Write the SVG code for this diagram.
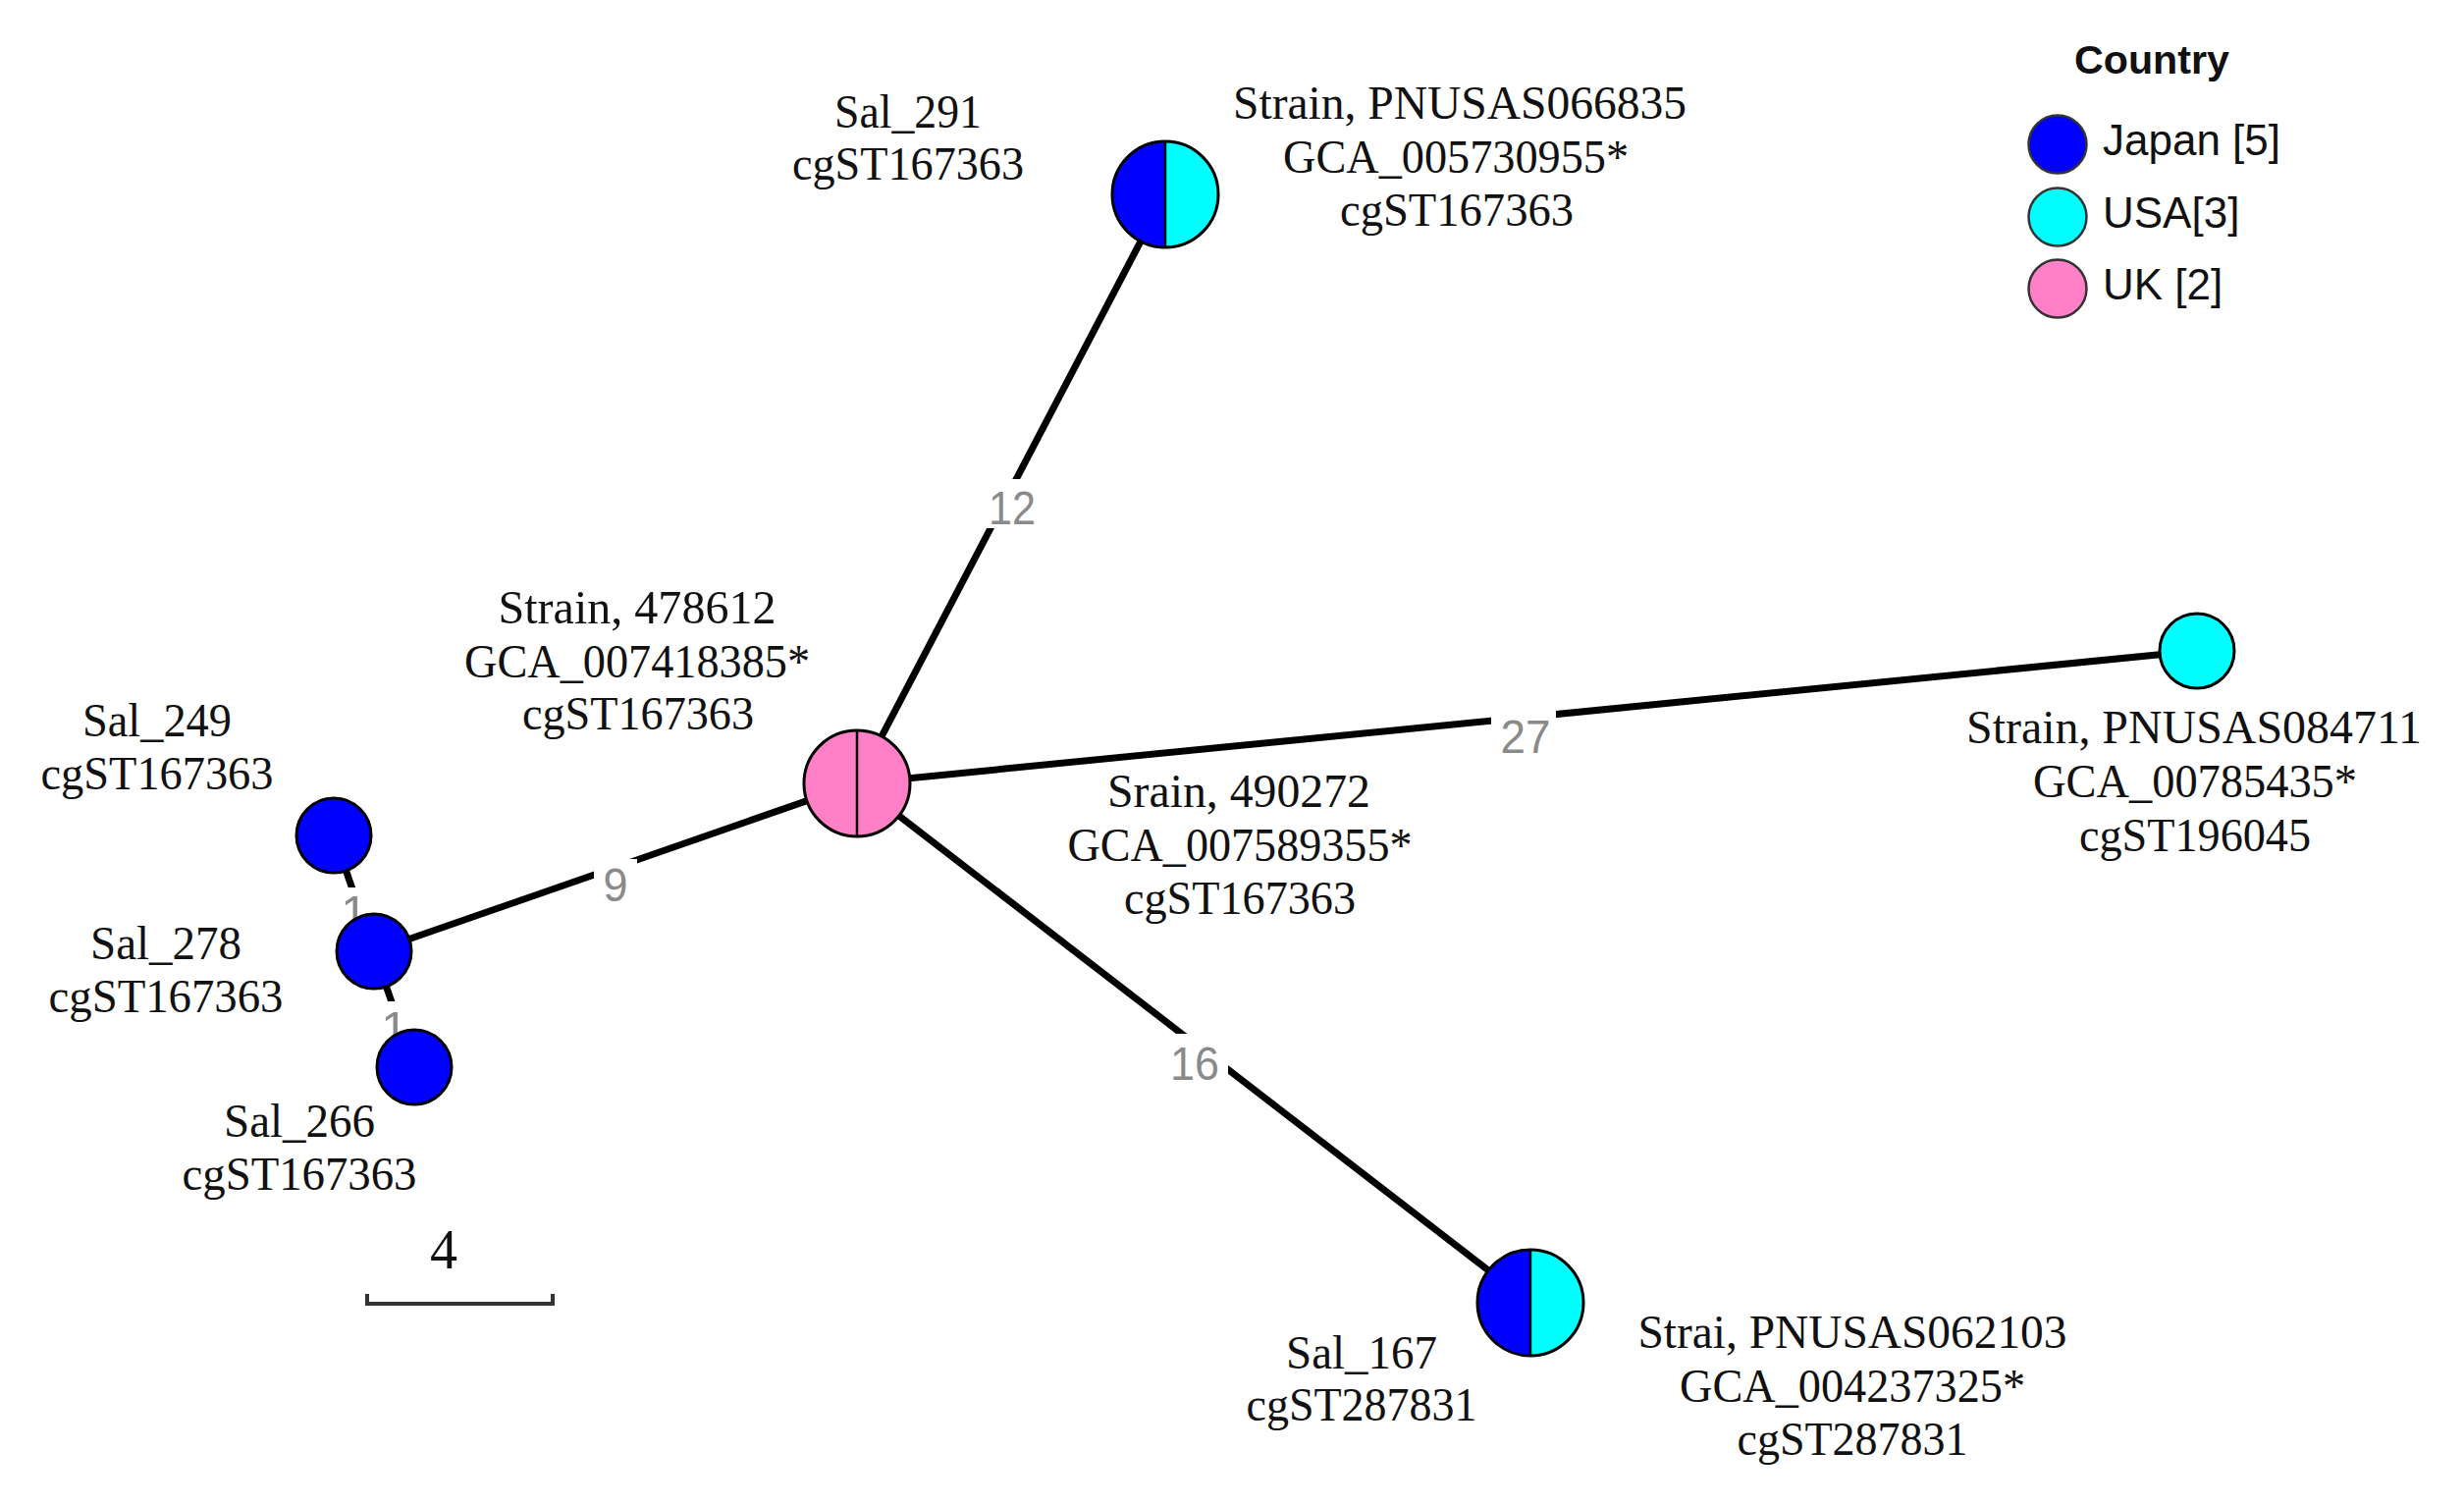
<svg xmlns="http://www.w3.org/2000/svg" width="2510" height="1532" viewBox="0 0 2510 1532">
<style>
.edge{stroke:#000;stroke-width:7;fill:none;stroke-linecap:butt}
.elab{font-family:"Liberation Sans",Arial,sans-serif;font-size:49px;fill:#8a8a8a;text-anchor:middle}
.lbg{fill:#fff}
.nd{stroke:#000;stroke-width:3}
.div{stroke:#000;stroke-width:2.5}
.jp{fill:#0000FF}
.us{fill:#00FFFF}
.uk{fill:#FF80C6}
.t{font-family:"Liberation Serif","Times New Roman",serif;font-size:48px;fill:#111;text-anchor:middle}
.leg{font-family:"Liberation Sans",Arial,sans-serif;font-size:44px;fill:#111}
.legc{stroke:#333;stroke-width:2.5}
</style>
<rect width="2510" height="1532" fill="#fff"/>
<g id="connectors">
<line class="edge" x1="873" y1="798" x2="1187" y2="198"/>
<line class="edge" x1="873" y1="798" x2="2238" y2="663"/>
<line class="edge" x1="873" y1="798" x2="1559" y2="1327"/>
<line class="edge" x1="873" y1="798" x2="381" y2="969"/>
<line class="edge" x1="340" y1="851" x2="381" y2="969"/>
<line class="edge" x1="381" y1="969" x2="422" y2="1087"/>
<rect class="lbg" x="1000" y="488" width="62" height="50"/>
<text class="elab" x="1031" y="534" textLength="48" lengthAdjust="spacingAndGlyphs">12</text>
<rect class="lbg" x="1519" y="722" width="66" height="50"/>
<text class="elab" x="1554" y="767" textLength="51" lengthAdjust="spacingAndGlyphs">27</text>
<rect class="lbg" x="605" y="875" width="44" height="46"/>
<text class="elab" x="627" y="918" textLength="25" lengthAdjust="spacingAndGlyphs">9</text>
<rect class="lbg" x="1190" y="1053" width="61" height="50"/>
<text class="elab" x="1217" y="1100" textLength="50" lengthAdjust="spacingAndGlyphs">16</text>
<rect class="lbg" x="348" y="904" width="28" height="44"/>
<text class="elab" x="361" y="946">1</text>
<rect class="lbg" x="389" y="1020" width="28" height="44"/>
<text class="elab" x="402" y="1064">1</text>
</g>
<g id="node-sal291">
<path class="jp" d="M1187,144 A54,54 0 0 0 1187,252 Z"/>
<path class="us" d="M1187,144 A54,54 0 0 1 1187,252 Z"/>
<circle class="nd" cx="1187" cy="198" r="54" fill="none"/>
<line class="div" x1="1187" y1="144" x2="1187" y2="252"/>
<text class="t" x="925" y="130" textLength="150" lengthAdjust="spacingAndGlyphs">Sal_291</text>
<text class="t" x="925" y="183" textLength="236" lengthAdjust="spacingAndGlyphs">cgST167363</text>
<text class="t" x="1487" y="121" textLength="462" lengthAdjust="spacingAndGlyphs">Strain, PNUSAS066835</text>
<text class="t" x="1483" y="176" textLength="352" lengthAdjust="spacingAndGlyphs">GCA_005730955*</text>
<text class="t" x="1484" y="230" textLength="238" lengthAdjust="spacingAndGlyphs">cgST167363</text>
</g>
<g id="node-uk">
<circle class="nd uk" cx="873" cy="798" r="54"/>
<line class="div" x1="873" y1="744" x2="873" y2="852"/>
<text class="t" x="649" y="635" textLength="283" lengthAdjust="spacingAndGlyphs">Strain, 478612</text>
<text class="t" x="649" y="690" textLength="352" lengthAdjust="spacingAndGlyphs">GCA_007418385*</text>
<text class="t" x="650" y="743" textLength="236" lengthAdjust="spacingAndGlyphs">cgST167363</text>
<text class="t" x="1262" y="822" textLength="268" lengthAdjust="spacingAndGlyphs">Srain, 490272</text>
<text class="t" x="1263" y="877" textLength="351" lengthAdjust="spacingAndGlyphs">GCA_007589355*</text>
<text class="t" x="1263" y="931" textLength="236" lengthAdjust="spacingAndGlyphs">cgST167363</text>
</g>
<g id="node-pnusas084711">
<circle class="nd us" cx="2238" cy="663" r="38"/>
<text class="t" x="2235" y="757" textLength="464" lengthAdjust="spacingAndGlyphs">Strain, PNUSAS084711</text>
<text class="t" x="2236" y="812" textLength="330" lengthAdjust="spacingAndGlyphs">GCA_00785435*</text>
<text class="t" x="2236" y="867" textLength="236" lengthAdjust="spacingAndGlyphs">cgST196045</text>
</g>
<g id="node-sal167">
<path class="jp" d="M1559,1273 A54,54 0 0 0 1559,1381 Z"/>
<path class="us" d="M1559,1273 A54,54 0 0 1 1559,1381 Z"/>
<circle class="nd" cx="1559" cy="1327" r="54" fill="none"/>
<line class="div" x1="1559" y1="1273" x2="1559" y2="1381"/>
<text class="t" x="1387" y="1394" textLength="154" lengthAdjust="spacingAndGlyphs">Sal_167</text>
<text class="t" x="1387" y="1447" textLength="235" lengthAdjust="spacingAndGlyphs">cgST287831</text>
<text class="t" x="1887" y="1373" textLength="437" lengthAdjust="spacingAndGlyphs">Strai, PNUSAS062103</text>
<text class="t" x="1887" y="1428" textLength="352" lengthAdjust="spacingAndGlyphs">GCA_004237325*</text>
<text class="t" x="1887" y="1482" textLength="235" lengthAdjust="spacingAndGlyphs">cgST287831</text>
</g>
<g id="node-sal249">
<circle class="nd jp" cx="340" cy="851" r="38"/>
<text class="t" x="160" y="750" textLength="152" lengthAdjust="spacingAndGlyphs">Sal_249</text>
<text class="t" x="160" y="804" textLength="237" lengthAdjust="spacingAndGlyphs">cgST167363</text>
</g>
<g id="node-sal278">
<circle class="nd jp" cx="381" cy="969" r="38"/>
<text class="t" x="169" y="977" textLength="154" lengthAdjust="spacingAndGlyphs">Sal_278</text>
<text class="t" x="169" y="1031" textLength="239" lengthAdjust="spacingAndGlyphs">cgST167363</text>
</g>
<g id="node-sal266">
<circle class="nd jp" cx="422" cy="1087" r="38"/>
<text class="t" x="305" y="1158" textLength="154" lengthAdjust="spacingAndGlyphs">Sal_266</text>
<text class="t" x="305" y="1212" textLength="239" lengthAdjust="spacingAndGlyphs">cgST167363</text>
</g>
<g id="scale-bar">
<text class="t" x="452" y="1292" style="font-size:58px" textLength="28" lengthAdjust="spacingAndGlyphs">4</text>
<path d="M374,1318 V1328 H563 V1318" fill="none" stroke="#333" stroke-width="4"/>
</g>
<g id="legend">
<text x="2192" y="75" text-anchor="middle" style="font-family:'Liberation Sans',Arial,sans-serif;font-size:40px;font-weight:bold;fill:#111" textLength="158" lengthAdjust="spacingAndGlyphs">Country</text>
<circle class="legc jp" cx="2096" cy="147" r="29.5"/>
<text class="leg" x="2142" y="158">Japan [5]</text>
<circle class="legc us" cx="2096" cy="221" r="29.5"/>
<text class="leg" x="2142" y="232">USA[3]</text>
<circle class="legc uk" cx="2096" cy="294" r="29.5"/>
<text class="leg" x="2142" y="305">UK [2]</text>
</g>
</svg>
